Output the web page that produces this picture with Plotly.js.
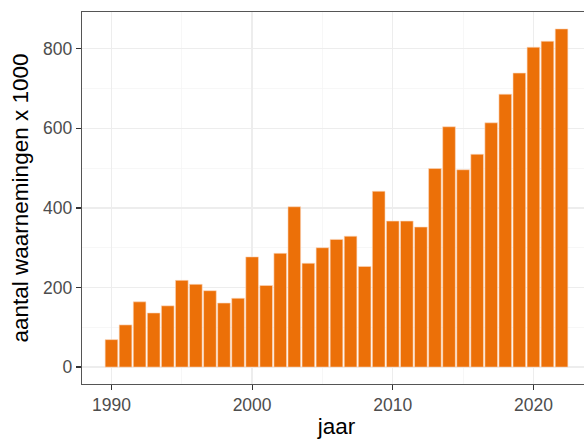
<!DOCTYPE html>
<html>
<head>
<meta charset="utf-8">
<script src="https://cdn.plot.ly/plotly-3.0.1.min.js"></script>
<style>
html, body { margin: 0; padding: 0; overflow: hidden; background: #fff; }
#chart { width: 592px; height: 439px; }
</style>
</head>
<body>
<div id="chart"></div>
<script>
const years = [1990, 1991, 1992, 1993, 1994, 1995, 1996, 1997, 1998, 1999,
               2000, 2001, 2002, 2003, 2004, 2005, 2006, 2007, 2008, 2009,
               2010, 2011, 2012, 2013, 2014, 2015, 2016, 2017, 2018, 2019,
               2020, 2021, 2022];
const waarnemingen = [69, 106, 164, 136, 154, 218, 208, 192, 161, 173,
                      277, 205, 286, 403, 261, 300, 321, 329, 253, 442,
                      367, 367, 352, 499, 604, 496, 535, 614, 686, 739,
                      804, 819, 850];
const xTicks = [1990, 2000, 2010, 2020];
const yTicks = [0, 200, 400, 600, 800];

const trace = {
  type: 'bar',
  x: years,
  y: waarnemingen,
  width: 0.9,
  marker: { color: '#EC7008', line: { color: '#FBD9BF', width: 0.6 } },
  hoverinfo: 'x+y'
};

const layout = {
  width: 592,
  height: 439,
  margin: { l: 82, r: 1, t: 12, b: 55 },
  paper_bgcolor: '#ffffff',
  plot_bgcolor: '#ffffff',
  showlegend: false,
  font: { family: 'Liberation Sans, Arial, sans-serif' },
  xaxis: {
    range: [1987.905, 2024.095],
    tickmode: 'array',
    tickvals: xTicks,
    ticktext: xTicks.map(String),
    ticks: 'outside',
    ticklen: 5,
    tickwidth: 1.2,
    tickcolor: '#333333',
    tickfont: { size: 17.5, color: '#4D4D4D' },
    showgrid: true,
    gridcolor: '#EDEDED',
    gridwidth: 1.3,
    minor: { tickmode: 'array', tickvals: [1995, 2005, 2015], showgrid: true, gridcolor: '#F3F3F3', gridwidth: 0.7 },
    showline: true,
    mirror: true,
    linecolor: '#555555',
    linewidth: 1.3,
    zeroline: false,
    title: { text: 'jaar', font: { size: 22.5, color: '#000000' }, standoff: 8 },
    automargin: false
  },
  yaxis: {
    range: [-42.5, 892.5],
    tickmode: 'array',
    tickvals: yTicks,
    ticktext: yTicks.map(String),
    ticks: 'outside',
    ticklen: 5,
    tickwidth: 1.2,
    tickcolor: '#333333',
    tickfont: { size: 17.5, color: '#4D4D4D' },
    showgrid: true,
    gridcolor: '#EDEDED',
    gridwidth: 1.3,
    minor: { tickmode: 'array', tickvals: [100, 300, 500, 700], showgrid: true, gridcolor: '#F3F3F3', gridwidth: 0.7 },
    showline: true,
    linecolor: '#555555',
    linewidth: 1.3,
    zeroline: false,
    title: { text: 'aantal waarnemingen x 1000', font: { size: 22.5, color: '#000000' }, standoff: 8 },
    automargin: false
  }
};

Plotly.newPlot('chart', [trace], layout, { displayModeBar: false, staticPlot: true });
</script>
</body>
</html>
